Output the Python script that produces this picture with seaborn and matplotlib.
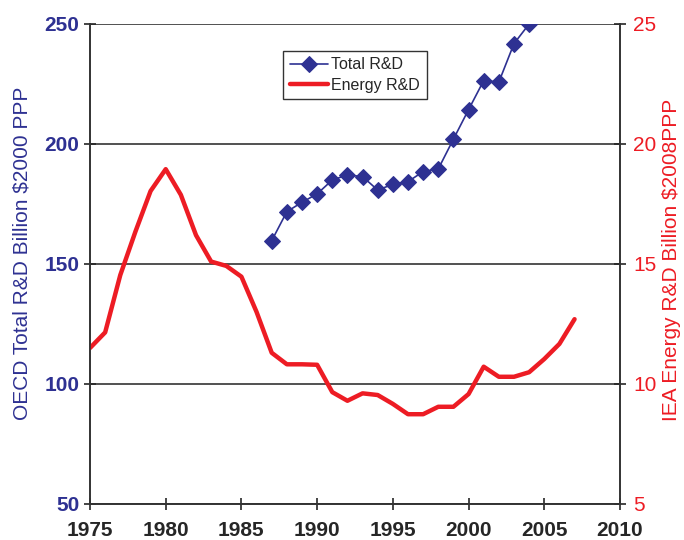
# OECD total R&D vs IEA energy R&D, dual axis

import pandas as pd
import matplotlib.pyplot as plt
import seaborn as sns

# Total R&D (left axis, billion $2000 PPP)
total_years = list(range(1987, 2005))
total_rd = [159.7, 171.8, 175.7, 179.2, 185.0, 187.1, 186.4, 180.8, 183.2,
            184.3, 188.5, 189.6, 202.0, 214.3, 226.4, 225.8, 241.8, 250.0]

# Energy R&D (right axis, billion $2008 PPP)
energy_years = list(range(1975, 2008))
energy_rd = [11.5, 12.15, 14.54, 16.35, 18.04, 18.95, 17.88, 16.2, 15.1, 14.92,
             14.47, 13.0, 11.3, 10.82, 10.82, 10.8, 9.66, 9.3, 9.61, 9.54,
             9.17, 8.74, 8.74, 9.05, 9.05, 9.58, 10.72, 10.3, 10.3, 10.49,
             11.04, 11.67, 12.7]

x_ticks = [1975, 1980, 1985, 1990, 1995, 2000, 2005, 2010]
left_ticks = [50, 100, 150, 200, 250]
right_ticks = [5, 10, 15, 20, 25]

blue = "#2E3192"
red = "#ED1C24"

df_total = pd.DataFrame({"Year": total_years, "Value": total_rd})
df_energy = pd.DataFrame({"Year": energy_years, "Value": energy_rd})

sns.set_style("white")
plt.rcParams['font.family'] = ['Liberation Sans', 'DejaVu Sans']

fig = plt.figure(figsize=(6.84, 5.4), dpi=100)
ax = fig.add_axes([0.1316, 0.0667, 0.7748, 0.8889])
ax2 = ax.twinx()

sns.lineplot(data=df_total, x="Year", y="Value", ax=ax, color=blue,
             marker="D", markersize=8.5, markeredgecolor=blue, linewidth=1.2,
             label="Total R&D", legend=False)
sns.lineplot(data=df_energy, x="Year", y="Value", ax=ax2, color=red,
             linewidth=3.2, label="Energy R&D", legend=False)

ax.set_xlim(1975, 2010)
ax.set_ylim(50, 250)
ax2.set_ylim(5, 25)
ax.set_xticks(x_ticks)
ax.set_yticks(left_ticks)
ax2.set_yticks(right_ticks)

ax.grid(axis="y", color="#333333", linewidth=1.2)
ax.grid(axis="x", visible=False)
ax2.grid(False)

ax.spines["top"].set_visible(False)
ax2.spines["top"].set_visible(False)
for a in (ax, ax2):
    for s in ["left", "right", "bottom"]:
        a.spines[s].set_color("#333333")
        a.spines[s].set_linewidth(1.2)

ax.tick_params(axis="x", direction="inout", length=9, width=1.2, labelsize=15,
               bottom=True, pad=8)
ax.tick_params(axis="y", direction="inout", length=9, width=1.2, labelsize=15,
               labelcolor=blue, left=True, pad=3)
ax2.tick_params(axis="y", direction="inout", length=9, width=1.2, labelsize=15,
                labelcolor=red, right=True, pad=5)
for lbl in ax.get_xticklabels() + ax.get_yticklabels():
    lbl.set_fontweight("bold")

ax.set_xlabel("")
ax.set_ylabel("OECD Total R&D Billion $2000 PPP", color=blue, fontsize=15)
ax2.set_ylabel("IEA Energy R&D Billion $2008PPP", color=red, fontsize=15)
ax.yaxis.set_label_coords(-0.11, 0.523)
ax2.yaxis.set_label_coords(1.08, 0.508)

h1, l1 = ax.get_legend_handles_labels()
h2, l2 = ax2.get_legend_handles_labels()
leg = ax2.legend(h1 + h2, l1 + l2, loc="upper left",
                 bbox_to_anchor=(0.365, 0.944), fontsize=11.5, frameon=True,
                 fancybox=False, framealpha=1, edgecolor="#333333",
                 handlelength=2.4, borderpad=0.4, labelspacing=0.35,
                 handletextpad=0.2, borderaxespad=0)
leg.get_frame().set_linewidth(1.0)

fig.savefig("out.png", dpi=100)
